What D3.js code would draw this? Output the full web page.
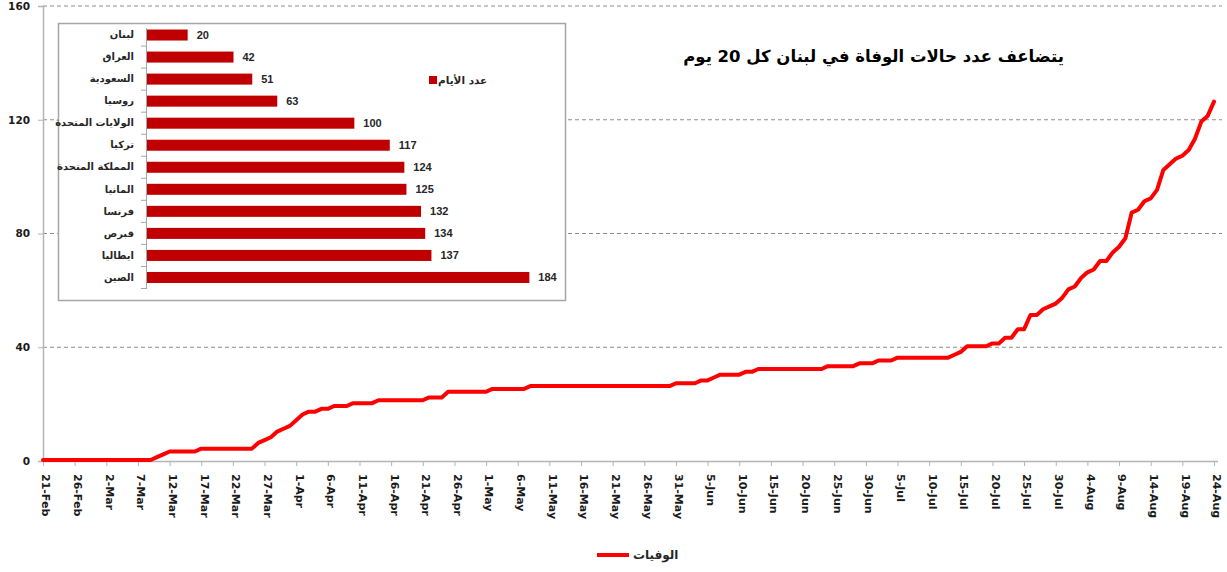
<!DOCTYPE html>
<html>
<head>
<meta charset="utf-8">
<script src="https://cdn.jsdelivr.net/npm/d3@7"></script>
<style>
body { margin: 0; background: white; }
</style>
</head>
<body>
<script>
// cumulative deaths in Lebanon, one value per day starting 21-Feb-2020
var startDay = '2020-02-21';
var deaths = [
  // Feb 21-29
  0, 0, 0, 0, 0, 0, 0, 0, 0,
  // Mar
  0, 0, 0, 0, 0, 0, 0, 0, 0, 1, 2, 3, 3, 3, 3, 3,
  4, 4, 4, 4, 4, 4, 4, 4, 4, 6, 7, 8, 10, 11, 12,
  // Apr
  14, 16, 17, 17, 18, 18, 19, 19, 19, 20, 20, 20, 20, 21, 21,
  21, 21, 21, 21, 21, 21, 22, 22, 22, 24, 24, 24, 24, 24, 24,
  // May
  24, 25, 25, 25, 25, 25, 25, 26, 26, 26, 26, 26, 26, 26, 26, 26,
  26, 26, 26, 26, 26, 26, 26, 26, 26, 26, 26, 26, 26, 26, 27,
  // Jun
  27, 27, 27, 28, 28, 29, 30, 30, 30, 30, 31, 31, 32, 32, 32,
  32, 32, 32, 32, 32, 32, 32, 32, 33, 33, 33, 33, 33, 34, 34,
  // Jul
  34, 35, 35, 35, 36, 36, 36, 36, 36, 36, 36, 36, 36, 37, 38, 40,
  40, 40, 40, 41, 41, 43, 43, 46, 46, 51, 51, 53, 54, 55, 57,
  // Aug 1-24
  60, 61, 64, 66, 67, 70, 70, 73, 75, 78, 87, 88, 91, 92, 95, 102,
  104, 106, 107, 109, 113, 119, 121, 126
];
var yTicks = [0, 40, 80, 120, 160];

// inset: days needed for deaths to double
var countries = ['لبنان', 'العراق', 'السعودية', 'روسيا', 'الولايات المتحدة', 'تركيا',
  'المملكة المتحدة', 'المانيا', 'فرنسا', 'قبرص', 'ايطاليا', 'الصين'];
var days = [20, 42, 51, 63, 100, 117, 124, 125, 132, 134, 137, 184];

var title = 'يتضاعف عدد حالات الوفاة في لبنان كل 20 يوم';
var lineName = 'الوفيات';
var barName = 'عدد الأيام';

var svg = d3.select('body').append('svg').attr('width', 1227).attr('height', 572);

var t0 = d3.utcParse('%Y-%m-%d')(startDay);
var points = deaths.map(function (v, i) { return { date: d3.utcDay.offset(t0, i), value: v }; });
var tEnd = points[points.length - 1].date;

var x = d3.scaleUtc().domain([t0, tEnd]).range([43, 1214]);
var y = d3.scaleLinear().domain([0, 160]).range([461, 6]);

// grid
svg.append('g').selectAll('line').data(yTicks.slice(1)).enter().append('line')
  .attr('x1', 43).attr('x2', 1222)
  .attr('y1', function (d) { return y(d); }).attr('y2', function (d) { return y(d); })
  .attr('stroke', '#8c8c8c').attr('stroke-dasharray', '4,3');

// y axis
var yAxis = svg.append('g').attr('transform', 'translate(43,0)')
  .call(d3.axisLeft(y).tickValues(yTicks).tickSize(5).tickPadding(8));
yAxis.select('.domain').attr('stroke', '#b4b4b4').attr('stroke-width', 1.5);
yAxis.selectAll('.tick line').attr('stroke', '#b4b4b4');
yAxis.selectAll('text').attr('font-family', 'DejaVu Sans').attr('font-weight', 'bold')
  .attr('font-size', '10.5px').attr('fill', '#1a1a1a');

// x axis
var xTicks = d3.utcDay.range(t0, d3.utcDay.offset(tEnd, 1), 5);
var xAxis = svg.append('g').attr('transform', 'translate(0,461)')
  .call(d3.axisBottom(x).tickValues(xTicks).tickSize(5).tickFormat(d3.utcFormat('%-d-%b')));
xAxis.select('.domain').attr('stroke', '#b4b4b4').attr('stroke-width', 1.5)
  .attr('d', 'M43,0.5H1218');
xAxis.selectAll('.tick line').attr('stroke', '#b4b4b4');
xAxis.selectAll('text').attr('transform', 'rotate(90)')
  .attr('x', 13).attr('y', 0).attr('dy', '0.1em').attr('text-anchor', 'start')
  .attr('font-family', 'DejaVu Sans').attr('font-weight', 'bold')
  .attr('font-size', '11px').attr('fill', '#1a1a1a');

// deaths line
var line = d3.line().x(function (d) { return x(d.date); }).y(function (d) { return y(d.value) - 1; });
svg.append('path').datum(points).attr('d', line)
  .attr('fill', 'none').attr('stroke', '#ff0000').attr('stroke-width', 4)
  .attr('stroke-linejoin', 'round').attr('stroke-linecap', 'round');

// title (rtl: start is the right edge)
svg.append('text').attr('x', 1064).attr('y', 62).attr('text-anchor', 'start')
  .attr('direction', 'rtl')
  .attr('font-family', 'DejaVu Sans').attr('font-weight', 'bold').attr('font-size', '16.5px')
  .text(title);

// legend
svg.append('line').attr('x1', 597).attr('x2', 629).attr('y1', 555).attr('y2', 555)
  .attr('stroke', '#ff0000').attr('stroke-width', 4);
svg.append('text').attr('x', 633).attr('y', 559).attr('text-anchor', 'start')
  .attr('font-family', 'DejaVu Sans').attr('font-weight', 'bold').attr('font-size', '12px')
  .attr('fill', '#262626').text(lineName);

// inset bar chart
var inset = svg.append('g');
inset.append('rect').attr('x', 58.5).attr('y', 23.5).attr('width', 507).attr('height', 277)
  .attr('fill', 'white').attr('stroke', '#a6a6a6').attr('stroke-width', 1.5);

var by = d3.scaleBand().domain(countries).range([24, 288.5]).paddingInner(0.5).paddingOuter(0.25);
var bx = d3.scaleLinear().domain([0, 200]).range([146, 562.7]);

inset.selectAll('rect.bar').data(days).enter().append('rect').attr('class', 'bar')
  .attr('x', bx(0)).attr('y', function (d, i) { return by(countries[i]); })
  .attr('width', function (d) { return bx(d) - bx(0); }).attr('height', by.bandwidth())
  .attr('fill', '#c00000');

inset.selectAll('text.val').data(days).enter().append('text').attr('class', 'val')
  .attr('x', function (d) { return bx(d) + 9; })
  .attr('y', function (d, i) { return by(countries[i]) + by.bandwidth() / 2; })
  .attr('dy', '0.36em')
  .attr('font-family', 'Liberation Sans').attr('font-weight', 'bold').attr('font-size', '11px')
  .attr('fill', '#262626').text(function (d) { return d; });

var cAxis = inset.append('g').attr('transform', 'translate(146,0)')
  .call(d3.axisLeft(by).tickSize(0).tickPadding(12));
cAxis.select('.domain').attr('stroke', '#a6a6a6').attr('d', 'M0.5,28V289');
cAxis.selectAll('text').attr('font-family', 'DejaVu Sans').attr('font-weight', 'bold')
  .attr('font-size', '10px').attr('fill', '#262626');
// separator ticks between categories
inset.append('g').selectAll('line').data(countries).enter().append('line')
  .attr('x1', 141).attr('x2', 146.5)
  .attr('y1', function (d) { return by(d) + by.step() * 0.75; })
  .attr('y2', function (d) { return by(d) + by.step() * 0.75; })
  .attr('stroke', '#a6a6a6');

inset.append('rect').attr('x', 429).attr('y', 76).attr('width', 8).attr('height', 8).attr('fill', '#c00000');
inset.append('text').attr('x', 438).attr('y', 84).attr('text-anchor', 'start')
  .attr('font-family', 'DejaVu Sans').attr('font-weight', 'bold').attr('font-size', '10.5px')
  .attr('fill', '#262626').text(barName);
</script>
</body>
</html>
